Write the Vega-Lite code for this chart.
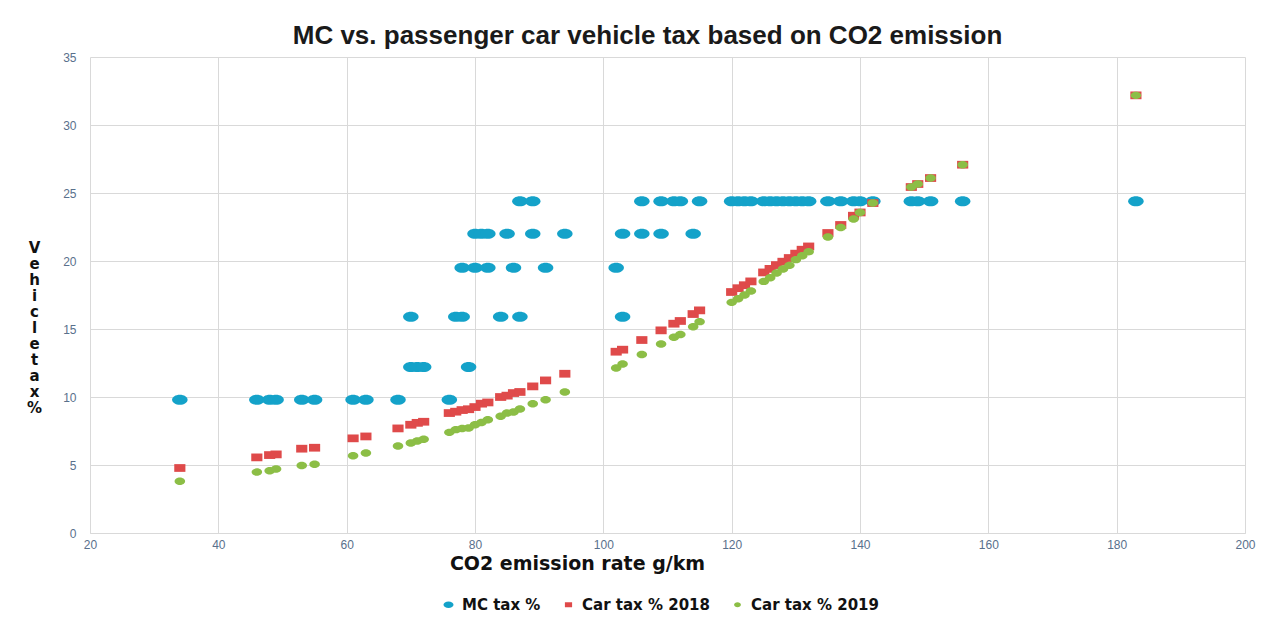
{
  "$schema": "https://vega.github.io/schema/vega-lite/v6.json",
  "width": 1155,
  "height": 476,
  "autosize": {"type": "none"},
  "padding": {"left": 90, "top": 57, "right": 29, "bottom": 84},
  "background": "white",
  "config": {
    "view": {"stroke": null},
    "font": "Liberation Sans"
  },
  "title": {
    "text": "MC vs. passenger car vehicle tax based on CO2 emission",
    "font": "Liberation Sans",
    "fontSize": 26,
    "fontWeight": "bold",
    "color": "#1a1a1a",
    "anchor": "middle",
    "dx": -20,
    "offset": 2
  },
  "data": {
    "values": [
      {"x": 34, "y": 9.8, "s": "MC tax %"},
      {"x": 46, "y": 9.8, "s": "MC tax %"},
      {"x": 48, "y": 9.8, "s": "MC tax %"},
      {"x": 49, "y": 9.8, "s": "MC tax %"},
      {"x": 53, "y": 9.8, "s": "MC tax %"},
      {"x": 55, "y": 9.8, "s": "MC tax %"},
      {"x": 61, "y": 9.8, "s": "MC tax %"},
      {"x": 63, "y": 9.8, "s": "MC tax %"},
      {"x": 68, "y": 9.8, "s": "MC tax %"},
      {"x": 76, "y": 9.8, "s": "MC tax %"},
      {"x": 70, "y": 12.2, "s": "MC tax %"},
      {"x": 71, "y": 12.2, "s": "MC tax %"},
      {"x": 72, "y": 12.2, "s": "MC tax %"},
      {"x": 79, "y": 12.2, "s": "MC tax %"},
      {"x": 70, "y": 15.9, "s": "MC tax %"},
      {"x": 77, "y": 15.9, "s": "MC tax %"},
      {"x": 78, "y": 15.9, "s": "MC tax %"},
      {"x": 84, "y": 15.9, "s": "MC tax %"},
      {"x": 87, "y": 15.9, "s": "MC tax %"},
      {"x": 103, "y": 15.9, "s": "MC tax %"},
      {"x": 78, "y": 19.5, "s": "MC tax %"},
      {"x": 80, "y": 19.5, "s": "MC tax %"},
      {"x": 82, "y": 19.5, "s": "MC tax %"},
      {"x": 86, "y": 19.5, "s": "MC tax %"},
      {"x": 91, "y": 19.5, "s": "MC tax %"},
      {"x": 102, "y": 19.5, "s": "MC tax %"},
      {"x": 80, "y": 22, "s": "MC tax %"},
      {"x": 81, "y": 22, "s": "MC tax %"},
      {"x": 82, "y": 22, "s": "MC tax %"},
      {"x": 85, "y": 22, "s": "MC tax %"},
      {"x": 89, "y": 22, "s": "MC tax %"},
      {"x": 94, "y": 22, "s": "MC tax %"},
      {"x": 103, "y": 22, "s": "MC tax %"},
      {"x": 106, "y": 22, "s": "MC tax %"},
      {"x": 109, "y": 22, "s": "MC tax %"},
      {"x": 114, "y": 22, "s": "MC tax %"},
      {"x": 87, "y": 24.4, "s": "MC tax %"},
      {"x": 89, "y": 24.4, "s": "MC tax %"},
      {"x": 106, "y": 24.4, "s": "MC tax %"},
      {"x": 109, "y": 24.4, "s": "MC tax %"},
      {"x": 111, "y": 24.4, "s": "MC tax %"},
      {"x": 112, "y": 24.4, "s": "MC tax %"},
      {"x": 115, "y": 24.4, "s": "MC tax %"},
      {"x": 120, "y": 24.4, "s": "MC tax %"},
      {"x": 121, "y": 24.4, "s": "MC tax %"},
      {"x": 122, "y": 24.4, "s": "MC tax %"},
      {"x": 123, "y": 24.4, "s": "MC tax %"},
      {"x": 125, "y": 24.4, "s": "MC tax %"},
      {"x": 126, "y": 24.4, "s": "MC tax %"},
      {"x": 127, "y": 24.4, "s": "MC tax %"},
      {"x": 128, "y": 24.4, "s": "MC tax %"},
      {"x": 129, "y": 24.4, "s": "MC tax %"},
      {"x": 130, "y": 24.4, "s": "MC tax %"},
      {"x": 131, "y": 24.4, "s": "MC tax %"},
      {"x": 132, "y": 24.4, "s": "MC tax %"},
      {"x": 135, "y": 24.4, "s": "MC tax %"},
      {"x": 137, "y": 24.4, "s": "MC tax %"},
      {"x": 139, "y": 24.4, "s": "MC tax %"},
      {"x": 140, "y": 24.4, "s": "MC tax %"},
      {"x": 142, "y": 24.4, "s": "MC tax %"},
      {"x": 148, "y": 24.4, "s": "MC tax %"},
      {"x": 149, "y": 24.4, "s": "MC tax %"},
      {"x": 151, "y": 24.4, "s": "MC tax %"},
      {"x": 156, "y": 24.4, "s": "MC tax %"},
      {"x": 183, "y": 24.4, "s": "MC tax %"},
      {"x": 34, "y": 4.78, "s": "Car tax % 2018"},
      {"x": 46, "y": 5.56, "s": "Car tax % 2018"},
      {"x": 48, "y": 5.73, "s": "Car tax % 2018"},
      {"x": 49, "y": 5.78, "s": "Car tax % 2018"},
      {"x": 53, "y": 6.2, "s": "Car tax % 2018"},
      {"x": 55, "y": 6.27, "s": "Car tax % 2018"},
      {"x": 61, "y": 6.96, "s": "Car tax % 2018"},
      {"x": 63, "y": 7.1, "s": "Car tax % 2018"},
      {"x": 68, "y": 7.69, "s": "Car tax % 2018"},
      {"x": 70, "y": 7.96, "s": "Car tax % 2018"},
      {"x": 71, "y": 8.1, "s": "Car tax % 2018"},
      {"x": 72, "y": 8.18, "s": "Car tax % 2018"},
      {"x": 76, "y": 8.82, "s": "Car tax % 2018"},
      {"x": 77, "y": 8.92, "s": "Car tax % 2018"},
      {"x": 78, "y": 9.04, "s": "Car tax % 2018"},
      {"x": 79, "y": 9.1, "s": "Car tax % 2018"},
      {"x": 80, "y": 9.26, "s": "Car tax % 2018"},
      {"x": 81, "y": 9.51, "s": "Car tax % 2018"},
      {"x": 82, "y": 9.6, "s": "Car tax % 2018"},
      {"x": 84, "y": 10.0, "s": "Car tax % 2018"},
      {"x": 85, "y": 10.1, "s": "Car tax % 2018"},
      {"x": 86, "y": 10.29, "s": "Car tax % 2018"},
      {"x": 87, "y": 10.37, "s": "Car tax % 2018"},
      {"x": 89, "y": 10.78, "s": "Car tax % 2018"},
      {"x": 91, "y": 11.22, "s": "Car tax % 2018"},
      {"x": 94, "y": 11.71, "s": "Car tax % 2018"},
      {"x": 102, "y": 13.33, "s": "Car tax % 2018"},
      {"x": 103, "y": 13.48, "s": "Car tax % 2018"},
      {"x": 106, "y": 14.19, "s": "Car tax % 2018"},
      {"x": 109, "y": 14.9, "s": "Car tax % 2018"},
      {"x": 111, "y": 15.39, "s": "Car tax % 2018"},
      {"x": 112, "y": 15.59, "s": "Car tax % 2018"},
      {"x": 114, "y": 16.1, "s": "Car tax % 2018"},
      {"x": 115, "y": 16.37, "s": "Car tax % 2018"},
      {"x": 120, "y": 17.72, "s": "Car tax % 2018"},
      {"x": 121, "y": 18.0, "s": "Car tax % 2018"},
      {"x": 122, "y": 18.22, "s": "Car tax % 2018"},
      {"x": 123, "y": 18.5, "s": "Car tax % 2018"},
      {"x": 125, "y": 19.16, "s": "Car tax % 2018"},
      {"x": 126, "y": 19.42, "s": "Car tax % 2018"},
      {"x": 127, "y": 19.7, "s": "Car tax % 2018"},
      {"x": 128, "y": 19.95, "s": "Car tax % 2018"},
      {"x": 129, "y": 20.22, "s": "Car tax % 2018"},
      {"x": 130, "y": 20.54, "s": "Car tax % 2018"},
      {"x": 131, "y": 20.83, "s": "Car tax % 2018"},
      {"x": 132, "y": 21.07, "s": "Car tax % 2018"},
      {"x": 135, "y": 22.06, "s": "Car tax % 2018"},
      {"x": 137, "y": 22.65, "s": "Car tax % 2018"},
      {"x": 139, "y": 23.33, "s": "Car tax % 2018"},
      {"x": 140, "y": 23.57, "s": "Car tax % 2018"},
      {"x": 142, "y": 24.26, "s": "Car tax % 2018"},
      {"x": 148, "y": 25.44, "s": "Car tax % 2018"},
      {"x": 149, "y": 25.66, "s": "Car tax % 2018"},
      {"x": 151, "y": 26.1, "s": "Car tax % 2018"},
      {"x": 156, "y": 27.08, "s": "Car tax % 2018"},
      {"x": 183, "y": 32.18, "s": "Car tax % 2018"},
      {"x": 34, "y": 3.8, "s": "Car tax % 2019"},
      {"x": 46, "y": 4.48, "s": "Car tax % 2019"},
      {"x": 48, "y": 4.58, "s": "Car tax % 2019"},
      {"x": 49, "y": 4.7, "s": "Car tax % 2019"},
      {"x": 53, "y": 4.97, "s": "Car tax % 2019"},
      {"x": 55, "y": 5.05, "s": "Car tax % 2019"},
      {"x": 61, "y": 5.68, "s": "Car tax % 2019"},
      {"x": 63, "y": 5.88, "s": "Car tax % 2019"},
      {"x": 68, "y": 6.4, "s": "Car tax % 2019"},
      {"x": 70, "y": 6.62, "s": "Car tax % 2019"},
      {"x": 71, "y": 6.76, "s": "Car tax % 2019"},
      {"x": 72, "y": 6.89, "s": "Car tax % 2019"},
      {"x": 76, "y": 7.4, "s": "Car tax % 2019"},
      {"x": 77, "y": 7.6, "s": "Car tax % 2019"},
      {"x": 78, "y": 7.69, "s": "Car tax % 2019"},
      {"x": 79, "y": 7.72, "s": "Car tax % 2019"},
      {"x": 80, "y": 7.96, "s": "Car tax % 2019"},
      {"x": 81, "y": 8.13, "s": "Car tax % 2019"},
      {"x": 82, "y": 8.33, "s": "Car tax % 2019"},
      {"x": 84, "y": 8.58, "s": "Car tax % 2019"},
      {"x": 85, "y": 8.82, "s": "Car tax % 2019"},
      {"x": 86, "y": 8.9, "s": "Car tax % 2019"},
      {"x": 87, "y": 9.12, "s": "Car tax % 2019"},
      {"x": 89, "y": 9.51, "s": "Car tax % 2019"},
      {"x": 91, "y": 9.8, "s": "Car tax % 2019"},
      {"x": 94, "y": 10.37, "s": "Car tax % 2019"},
      {"x": 102, "y": 12.13, "s": "Car tax % 2019"},
      {"x": 103, "y": 12.42, "s": "Car tax % 2019"},
      {"x": 106, "y": 13.13, "s": "Car tax % 2019"},
      {"x": 109, "y": 13.9, "s": "Car tax % 2019"},
      {"x": 111, "y": 14.39, "s": "Car tax % 2019"},
      {"x": 112, "y": 14.6, "s": "Car tax % 2019"},
      {"x": 114, "y": 15.17, "s": "Car tax % 2019"},
      {"x": 115, "y": 15.54, "s": "Car tax % 2019"},
      {"x": 120, "y": 16.96, "s": "Car tax % 2019"},
      {"x": 121, "y": 17.23, "s": "Car tax % 2019"},
      {"x": 122, "y": 17.5, "s": "Car tax % 2019"},
      {"x": 123, "y": 17.8, "s": "Car tax % 2019"},
      {"x": 125, "y": 18.5, "s": "Car tax % 2019"},
      {"x": 126, "y": 18.77, "s": "Car tax % 2019"},
      {"x": 127, "y": 19.12, "s": "Car tax % 2019"},
      {"x": 128, "y": 19.41, "s": "Car tax % 2019"},
      {"x": 129, "y": 19.68, "s": "Car tax % 2019"},
      {"x": 130, "y": 20.1, "s": "Car tax % 2019"},
      {"x": 131, "y": 20.39, "s": "Car tax % 2019"},
      {"x": 132, "y": 20.68, "s": "Car tax % 2019"},
      {"x": 135, "y": 21.76, "s": "Car tax % 2019"},
      {"x": 137, "y": 22.47, "s": "Car tax % 2019"},
      {"x": 139, "y": 23.09, "s": "Car tax % 2019"},
      {"x": 140, "y": 23.57, "s": "Car tax % 2019"},
      {"x": 142, "y": 24.26, "s": "Car tax % 2019"},
      {"x": 148, "y": 25.44, "s": "Car tax % 2019"},
      {"x": 149, "y": 25.66, "s": "Car tax % 2019"},
      {"x": 151, "y": 26.1, "s": "Car tax % 2019"},
      {"x": 156, "y": 27.08, "s": "Car tax % 2019"},
      {"x": 183, "y": 32.18, "s": "Car tax % 2019"}
    ]
  },
  "mark": {"type": "point", "filled": true, "opacity": 1, "size": 240},
  "encoding": {
    "x": {
      "field": "x",
      "type": "quantitative",
      "scale": {"domain": [20, 200], "nice": false, "zero": false},
      "axis": {
        "values": [20, 40, 60, 80, 100, 120, 140, 160, 180, 200],
        "title": "CO2 emission rate g/km",
        "titleFont": "DejaVu Sans",
        "titleFontSize": 19,
        "titleFontWeight": "bold",
        "titleColor": "#111111",
        "titleX": 487,
        "titleY": 30,
        "titleBaseline": "middle",
        "titleAnchor": "middle",
        "titleAlign": "center",
        "labelFontSize": 12,
        "labelColor": "#59708c",
        "labelPadding": 6,
        "labelFlush": false,
        "tickSize": 0,
        "ticks": false,
        "domainColor": "#d9d9d9",
        "gridColor": "#d9d9d9",
        "grid": true
      }
    },
    "y": {
      "field": "y",
      "type": "quantitative",
      "scale": {"domain": [0, 35], "nice": false},
      "axis": {
        "values": [0, 5, 10, 15, 20, 25, 30, 35],
        "title": ["V", "e", "h", "i", "c", "l", "e", "t", "a", "x", "%"],
        "titleFont": "DejaVu Sans",
        "titleFontSize": 15,
        "titleFontWeight": "bold",
        "titleColor": "#111111",
        "titleAngle": 0,
        "titleX": -56,
        "titleY": 183,
        "titleAlign": "center",
        "titleBaseline": "top",
        "titleLineHeight": 16,
        "labelFontSize": 12,
        "labelColor": "#59708c",
        "labelPadding": 14,
        "ticks": false,
        "tickSize": 0,
        "domain": false,
        "gridColor": "#d9d9d9",
        "grid": true
      }
    },
    "color": {
      "field": "s",
      "type": "nominal",
      "sort": ["MC tax %", "Car tax % 2018", "Car tax % 2019"],
      "scale": {
        "domain": ["MC tax %", "Car tax % 2018", "Car tax % 2019"],
        "range": ["#14a2c9", "#df4a4a", "#8cbe46"]
      },
      "legend": {
        "title": null,
        "orient": "none",
        "legendX": 351,
        "legendY": 540,
        "direction": "horizontal",
        "labelFont": "DejaVu Sans",
        "labelFontSize": 15,
        "labelFontWeight": "bold",
        "labelColor": "#111111",
        "symbolSize": 100,
        "columnPadding": 20,
        "labelOffset": 6
      }
    },
    "shape": {
      "field": "s",
      "type": "nominal",
      "scale": {
        "domain": ["MC tax %", "Car tax % 2018", "Car tax % 2019"],
        "range": [
          "M-1,0A1,0.65,0,1,1,1,0A1,0.65,0,1,1,-1,0Z",
          "M-0.72,-0.5H0.72V0.5H-0.72Z",
          "M-0.68,0A0.68,0.48,0,1,1,0.68,0A0.68,0.48,0,1,1,-0.68,0Z"
        ]
      }
    }
  }
}
